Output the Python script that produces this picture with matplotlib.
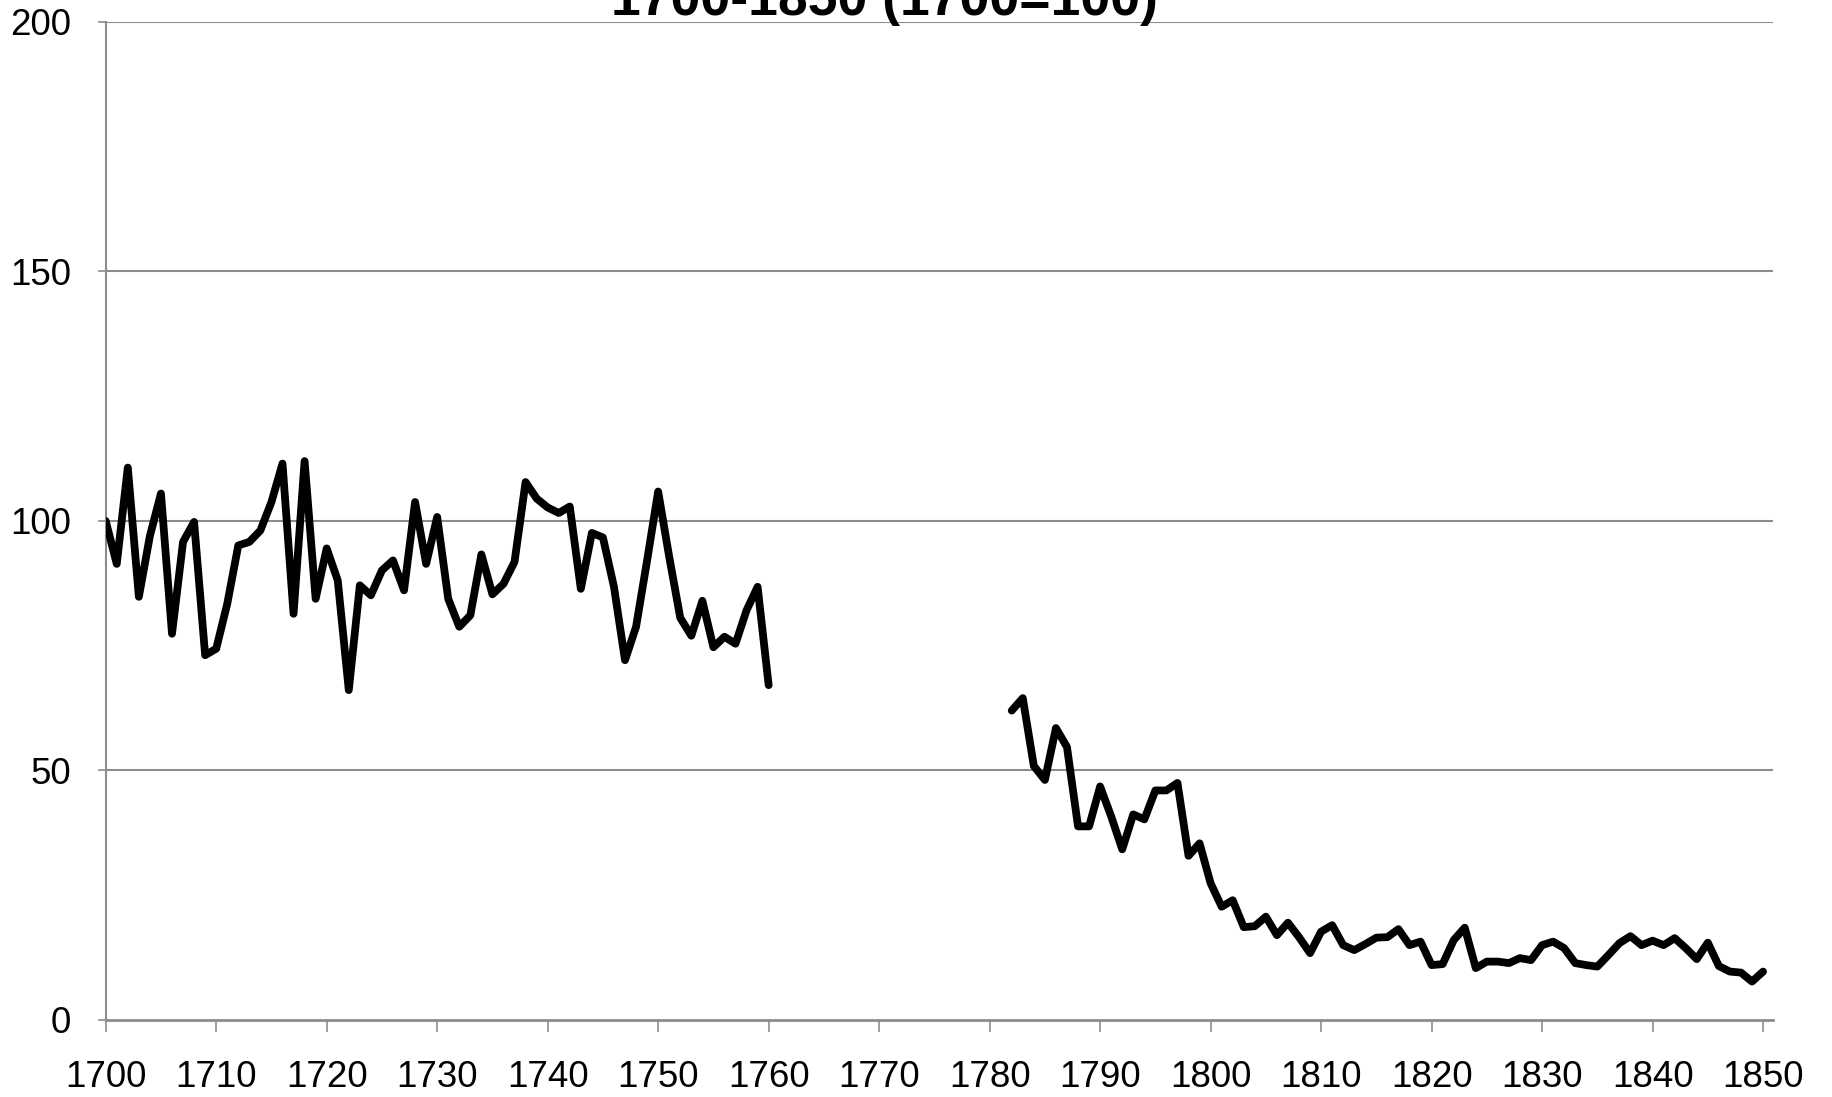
import numpy as np
import matplotlib
matplotlib.use("Agg")
import matplotlib.pyplot as plt

plt.rcParams['font.family'] = ['Liberation Sans', 'DejaVu Sans']

# index values (1700 = 100), gap 1761-1781
years_early = list(range(1700, 1761))
index_early = [100, 91.4, 110.7, 84.8, 97, 105.5, 77.4, 95.8, 99.8, 73.1,
               74.4, 83.4, 95.1, 95.8, 98.1, 103.8, 111.5, 81.4, 112, 84.4,
               94.5, 88.1, 66.1, 87.1, 85.1, 90.1, 92.1, 86.1, 103.8, 91.4,
               100.8, 84.4, 78.8, 81.1, 93.3, 85.3, 87.4, 91.8, 107.8, 104.5,
               102.7, 101.6, 102.9, 86.4, 97.6, 96.7, 86.8, 72.1, 78.8, 92.1,
               105.9, 92.8, 80.6, 77.0, 84.0, 74.7, 76.8, 75.4, 82.1, 86.8,
               67.1]

years_late = list(range(1782, 1851))
index_late = [62.0, 64.5, 50.9, 48.1, 58.5, 54.7, 38.8, 38.8, 46.8, 40.8,
              34.2, 41.2, 40.2, 46.0, 46.0, 47.5, 32.9, 35.4, 27.4, 22.7,
              24.0, 18.6, 18.8, 20.7, 17.0, 19.5, 16.6, 13.4, 17.7, 19.0,
              15.0, 14.0, 15.2, 16.5, 16.6, 18.2, 15.0, 15.7, 11.0, 11.2,
              16.0, 18.5, 10.4, 11.7, 11.7, 11.4, 12.4, 12.0, 15.0, 15.7,
              14.4, 11.4, 11.0, 10.7, 13.0, 15.4, 16.8, 15.0, 15.9, 15.0,
              16.4, 14.4, 12.2, 15.5, 10.8, 9.7, 9.5, 7.7, 9.7]

title = "1700-1850 (1700=100)"
xticks = list(range(1700, 1851, 10))
yticks = [0, 50, 100, 150, 200]

fig = plt.figure(figsize=(18.32, 10.97), dpi=100)
ax = fig.add_axes([0.0577, 0.0702, 0.9101, 0.9098])

grey = '#8c8c8c'
for y in yticks[1:]:
    ax.axhline(y, color=grey, lw=1.5, zorder=1)

ax.plot(years_early, index_early, color='black', lw=5.6, solid_joinstyle='round',
        solid_capstyle='round', zorder=3)
ax.plot(years_late, index_late, color='black', lw=5.6, solid_joinstyle='round',
        solid_capstyle='round', zorder=3)

ax.set_xlim(1700, 1850.9)
ax.set_ylim(0, 200)
ax.set_xticks(xticks)
ax.set_yticks(yticks)
ax.tick_params(axis='x', direction='out', length=8.5, width=1.2, color=grey,
               labelsize=26.5, pad=20)
ax.tick_params(axis='y', direction='out', length=6, width=1.2, color=grey,
               labelsize=26.5, pad=19)

for s in ['top', 'right']:
    ax.spines[s].set_visible(False)
ax.spines['left'].set_color(grey)
ax.spines['left'].set_linewidth(1.5)
ax.spines['bottom'].set_color(grey)
ax.spines['bottom'].set_linewidth(2)

fig.text(0.4825, 1 - 15 / 1097, title, ha='center', va='baseline',
         fontsize=38.5, fontweight='bold')

fig.savefig('out.png', dpi=100)
